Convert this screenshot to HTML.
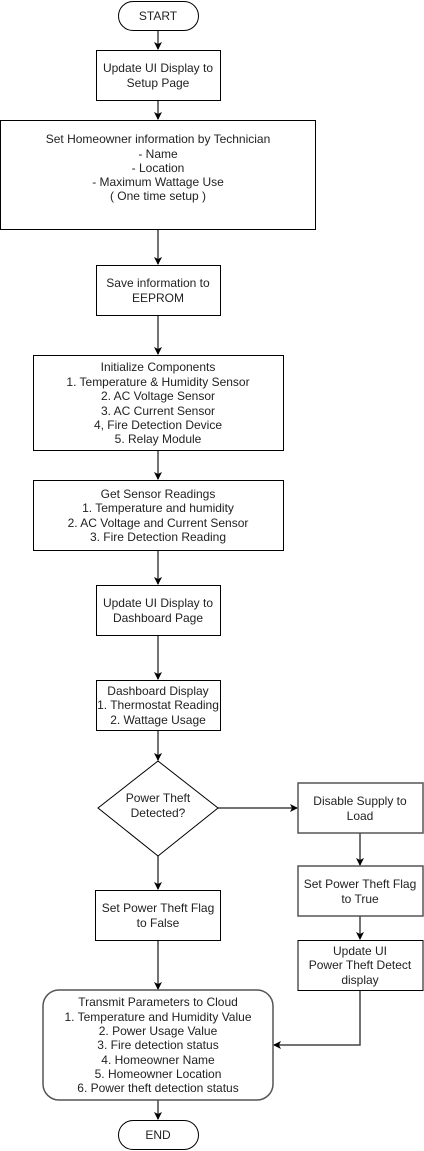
<!DOCTYPE html>
<html><head><meta charset="utf-8"><style>
html,body{margin:0;padding:0;background:#fff;}
svg{display:block;}
text{font-family:"Liberation Sans",Arial,sans-serif;font-size:12px;fill:#222;text-anchor:middle;}
.b{fill:#fff;stroke:#000;stroke-width:1;}
.g{fill:#fff;stroke:#555;stroke-width:1.5;}
.l{stroke:#444;stroke-width:1.5;fill:none;}
</style></head><body>
<svg width="424" height="1151" viewBox="0 0 424 1151" xmlns="http://www.w3.org/2000/svg">
<defs><marker id="a" markerWidth="8" markerHeight="8" refX="7" refY="4" orient="auto" markerUnits="userSpaceOnUse"><path d="M0,0 L8,4 L0,8 L2,4 z" fill="#000"/></marker></defs>
<!-- connectors -->
<line class="l" x1="158" y1="30" x2="158" y2="49" marker-end="url(#a)"/>
<line class="l" x1="158" y1="100" x2="158" y2="119" marker-end="url(#a)"/>
<line class="l" x1="158" y1="229" x2="158" y2="264" marker-end="url(#a)"/>
<line class="l" x1="158" y1="315" x2="158" y2="354" marker-end="url(#a)"/>
<line class="l" x1="158" y1="450" x2="158" y2="479" marker-end="url(#a)"/>
<line class="l" x1="158" y1="550" x2="158" y2="584" marker-end="url(#a)"/>
<line class="l" x1="158" y1="635" x2="158" y2="679" marker-end="url(#a)"/>
<line class="l" x1="158" y1="730" x2="158" y2="760" marker-end="url(#a)"/>
<line class="l" x1="218" y1="808" x2="297" y2="808" marker-end="url(#a)"/>
<line class="l" x1="158" y1="856" x2="158" y2="889" marker-end="url(#a)"/>
<line class="l" x1="360" y1="833" x2="360" y2="865" marker-end="url(#a)"/>
<line class="l" x1="360" y1="916" x2="360" y2="939" marker-end="url(#a)"/>
<line class="l" x1="158" y1="940" x2="158" y2="989" marker-end="url(#a)"/>
<polyline class="l" points="360,990 360,1045 274,1045" marker-end="url(#a)"/>
<line class="l" x1="158" y1="1100" x2="158" y2="1119" marker-end="url(#a)"/>
<!-- shapes -->
<rect class="b" x="118.5" y="1.5" width="80" height="29" rx="14.5"/>
<text x="158" y="20">START</text>
<rect class="b" x="96.5" y="50.5" width="124" height="50"/>
<text x="158" y="72">Update UI Display to</text><text x="158" y="87">Setup Page</text>
<rect class="b" x="0.5" y="120.5" width="315" height="109"/>
<text x="158" y="143">Set Homeowner information by Technician</text>
<text x="158" y="158">- Name</text><text x="158" y="172">- Location</text>
<text x="158" y="186">- Maximum Wattage Use</text><text x="158" y="200">( One time setup )</text>
<rect class="b" x="96.5" y="265.5" width="124" height="50"/>
<text x="158" y="287">Save information to</text><text x="158" y="302">EEPROM</text>
<rect class="b" x="33.5" y="355.5" width="250" height="95"/>
<text x="158" y="371">Initialize Components</text>
<text x="158" y="386">1. Temperature &amp; Humidity Sensor</text>
<text x="158" y="400">2. AC Voltage Sensor</text>
<text x="158" y="415">3. AC Current Sensor</text>
<text x="158" y="429">4, Fire Detection Device</text>
<text x="158" y="443">5. Relay Module</text>
<rect class="b" x="33.5" y="480.5" width="250" height="70"/>
<text x="158" y="498">Get Sensor Readings</text>
<text x="158" y="512">1. Temperature and humidity</text>
<text x="158" y="527">2. AC Voltage and Current Sensor</text>
<text x="158" y="541">3. Fire Detection Reading</text>
<rect class="b" x="96.5" y="585.5" width="124" height="50"/>
<text x="158" y="607">Update UI Display to</text><text x="158" y="622">Dashboard Page</text>
<rect class="b" x="96.5" y="680.5" width="124" height="50"/>
<text x="158" y="695">Dashboard Display</text>
<text x="158" y="709">1. Thermostat Reading</text>
<text x="158" y="724">2. Wattage Usage</text>
<polygon class="b" points="158,761 218,808 158,856 98,808"/>
<text x="158" y="802">Power Theft</text><text x="158" y="817">Detected?</text>
<rect class="g" x="298" y="783" width="125" height="50"/>
<text x="360" y="805">Disable Supply to</text><text x="360" y="820">Load</text>
<rect class="g" x="298" y="866" width="125" height="50"/>
<text x="360" y="888">Set Power Theft Flag</text><text x="360" y="903">to True</text>
<rect class="b" x="298" y="940.5" width="125" height="50"/>
<text x="360" y="955">Update UI</text><text x="360" y="969">Power Theft Detect</text><text x="360" y="984">display</text>
<rect class="b" x="95.5" y="890.5" width="125" height="50"/>
<text x="158" y="912">Set Power Theft Flag</text><text x="158" y="927">to False</text>
<rect class="g" x="43" y="990" width="230" height="110" rx="16"/>
<text x="158" y="1006">Transmit Parameters to Cloud</text>
<text x="158" y="1021">1. Temperature and Humidity Value</text>
<text x="158" y="1035">2. Power Usage Value</text>
<text x="158" y="1049">3. Fire detection status</text>
<text x="158" y="1064">4. Homeowner Name</text>
<text x="158" y="1078">5. Homeowner Location</text>
<text x="158" y="1092">6. Power theft detection status</text>
<rect class="b" x="118.5" y="1120.5" width="80" height="29" rx="14.5"/>
<text x="158" y="1139">END</text>
</svg>
</body></html>
